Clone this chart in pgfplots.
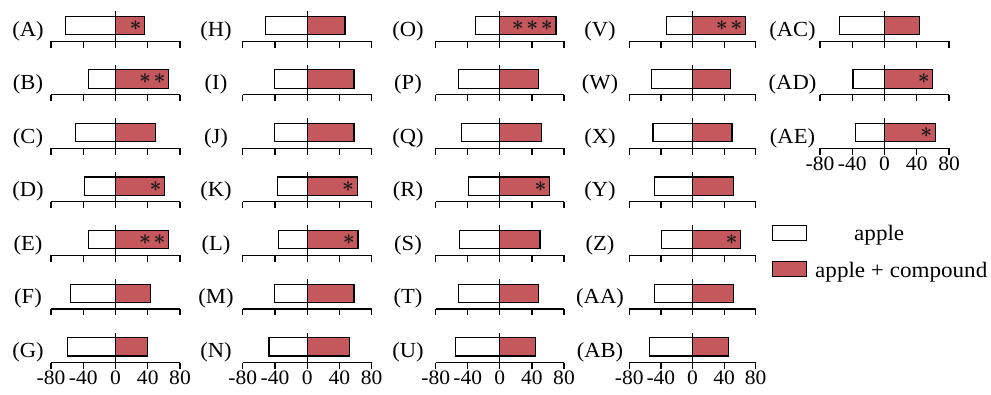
\documentclass[border=0pt]{standalone}
\usepackage{pgfplots}
\pgfplotsset{compat=1.18}
\usepackage{fontspec}
\setmainfont{Liberation Serif}[FakeStretch=1.05]
\definecolor{barred}{RGB}{197,88,92}
\newcommand\labfont{\fontsize{21.5}{21.5}\selectfont}
\pgfplotsset{
  panel/.style={
    scale only axis, height=30pt, anchor=south west,
    xmin=-80, xmax=80, ymin=-1.05, ymax=0.95,
    axis x line=bottom, axis y line=center,
    axis line style={-, line width=1.2pt, black},
    xtick={-80,-40,0,40,80}, ytick=\empty,
    tick align=outside, major tick length=6.5pt,
    every tick/.style={black, line width=1.2pt},
    xticklabels={},
    axis on top, clip=false,
  },
  c1/.style={panel, width=129pt},
  c2/.style={panel, width=129pt},
  c3/.style={panel, width=128.3pt},
  c4/.style={panel, width=126.4pt},
  c5/.style={panel, width=129pt},
  bottomrow/.style={xticklabels={-80,-40,0,40,80},
    xticklabel style={font=\fontsize{20.5}{20.5}\selectfont, inner sep=1.5pt}},
  wbar/.style={xbar, bar shift=0pt, bar width=18.3pt, fill=white, draw=black, line width=1.2pt},
  rbar/.style={xbar, bar shift=0pt, bar width=18.3pt, fill=barred, draw=black, line width=1.2pt},
  stars/.style={nodes near coords={#1},
    every node near coord/.append style={anchor=east, inner sep=0pt, xshift=-2.5pt, font=\fontsize{22}{22}\selectfont\boldmath, text=black!90}},
}
\newcommand\starone{${\ast}$}
\newcommand\startwo{${\ast}\mkern2mu{\ast}$}
\newcommand\starthree{${\ast}\mkern2mu{\ast}\mkern2mu{\ast}$}
\begin{document}
\begin{tikzpicture}
\useasboundingbox (0,0) rectangle (991pt,394pt);
% ---------------- column 1
\begin{axis}[c1, at={(51pt,352.7pt)}]
\addplot[wbar] coordinates {(-62,0)};
\addplot[rbar, stars=\starone] coordinates {(36,0)};
\node[font=\labfont, xshift=-23pt] at (axis description cs:0,0.343) {(A)};
\end{axis}
\begin{axis}[c1, at={(51pt,299.2pt)}]
\addplot[wbar] coordinates {(-33.5,0)};
\addplot[rbar, stars=\startwo] coordinates {(66,0)};
\node[font=\labfont, xshift=-23pt] at (axis description cs:0,0.343) {(B)};
\end{axis}
\begin{axis}[c1, at={(51pt,245.6pt)}]
\addplot[wbar] coordinates {(-49.6,0)};
\addplot[rbar] coordinates {(49.6,0)};
\node[font=\labfont, xshift=-23pt] at (axis description cs:0,0.343) {(C)};
\end{axis}
\begin{axis}[c1, at={(51pt,192.1pt)}]
\addplot[wbar] coordinates {(-38.5,0)};
\addplot[rbar, stars=\starone] coordinates {(61,0)};
\node[font=\labfont, xshift=-23pt] at (axis description cs:0,0.343) {(D)};
\end{axis}
\begin{axis}[c1, at={(51pt,138.6pt)}]
\addplot[wbar] coordinates {(-33,0)};
\addplot[rbar, stars=\startwo] coordinates {(66,0)};
\node[font=\labfont, xshift=-23pt] at (axis description cs:0,0.343) {(E)};
\end{axis}
\begin{axis}[c1, at={(51pt,85.0pt)}]
\addplot[wbar] coordinates {(-56,0)};
\addplot[rbar] coordinates {(43.4,0)};
\node[font=\labfont, xshift=-23pt] at (axis description cs:0,0.343) {(F)};
\end{axis}
\begin{axis}[c1, bottomrow, at={(51pt,31.5pt)}]
\addplot[wbar] coordinates {(-60,0)};
\addplot[rbar] coordinates {(39.3,0)};
\node[font=\labfont, xshift=-23pt] at (axis description cs:0,0.343) {(G)};
\end{axis}
% ---------------- column 2
\begin{axis}[c2, at={(242.7pt,352.7pt)}]
\addplot[wbar] coordinates {(-52,0)};
\addplot[rbar] coordinates {(47,0)};
\node[font=\labfont, xshift=-26.7pt] at (axis description cs:0,0.343) {(H)};
\end{axis}
\begin{axis}[c2, at={(242.7pt,299.2pt)}]
\addplot[wbar] coordinates {(-41,0)};
\addplot[rbar] coordinates {(58,0)};
\node[font=\labfont, xshift=-26.7pt] at (axis description cs:0,0.343) {(I)};
\end{axis}
\begin{axis}[c2, at={(242.7pt,245.6pt)}]
\addplot[wbar] coordinates {(-41,0)};
\addplot[rbar] coordinates {(58,0)};
\node[font=\labfont, xshift=-26.7pt] at (axis description cs:0,0.343) {(J)};
\end{axis}
\begin{axis}[c2, at={(242.7pt,192.1pt)}]
\addplot[wbar] coordinates {(-37,0)};
\addplot[rbar, stars=\starone] coordinates {(62,0)};
\node[font=\labfont, xshift=-26.7pt] at (axis description cs:0,0.343) {(K)};
\end{axis}
\begin{axis}[c2, at={(242.7pt,138.6pt)}]
\addplot[wbar] coordinates {(-36,0)};
\addplot[rbar, stars=\starone] coordinates {(63,0)};
\node[font=\labfont, xshift=-26.7pt] at (axis description cs:0,0.343) {(L)};
\end{axis}
\begin{axis}[c2, at={(242.7pt,85.0pt)}]
\addplot[wbar] coordinates {(-41,0)};
\addplot[rbar] coordinates {(58,0)};
\node[font=\labfont, xshift=-26.7pt] at (axis description cs:0,0.343) {(M)};
\end{axis}
\begin{axis}[c2, bottomrow, at={(242.7pt,31.5pt)}]
\addplot[wbar] coordinates {(-47.5,0)};
\addplot[rbar] coordinates {(52,0)};
\node[font=\labfont, xshift=-26.7pt] at (axis description cs:0,0.343) {(N)};
\end{axis}
% ---------------- column 3
\begin{axis}[c3, at={(435.7pt,352.7pt)}]
\addplot[wbar] coordinates {(-30,0)};
\addplot[rbar, stars=\starthree] coordinates {(70,0)};
\node[font=\labfont, xshift=-27.7pt] at (axis description cs:0,0.343) {(O)};
\end{axis}
\begin{axis}[c3, at={(435.7pt,299.2pt)}]
\addplot[wbar] coordinates {(-51.5,0)};
\addplot[rbar] coordinates {(48.6,0)};
\node[font=\labfont, xshift=-27.7pt] at (axis description cs:0,0.343) {(P)};
\end{axis}
\begin{axis}[c3, at={(435.7pt,245.6pt)}]
\addplot[wbar] coordinates {(-48,0)};
\addplot[rbar] coordinates {(52,0)};
\node[font=\labfont, xshift=-27.7pt] at (axis description cs:0,0.343) {(Q)};
\end{axis}
\begin{axis}[c3, at={(435.7pt,192.1pt)}]
\addplot[wbar] coordinates {(-38.7,0)};
\addplot[rbar, stars=\starone] coordinates {(62,0)};
\node[font=\labfont, xshift=-27.7pt] at (axis description cs:0,0.343) {(R)};
\end{axis}
\begin{axis}[c3, at={(435.7pt,138.6pt)}]
\addplot[wbar] coordinates {(-50.7,0)};
\addplot[rbar] coordinates {(50,0)};
\node[font=\labfont, xshift=-27.7pt] at (axis description cs:0,0.343) {(S)};
\end{axis}
\begin{axis}[c3, at={(435.7pt,85.0pt)}]
\addplot[wbar] coordinates {(-52,0)};
\addplot[rbar] coordinates {(48.6,0)};
\node[font=\labfont, xshift=-27.7pt] at (axis description cs:0,0.343) {(T)};
\end{axis}
\begin{axis}[c3, bottomrow, at={(435.7pt,31.5pt)}]
\addplot[wbar] coordinates {(-55,0)};
\addplot[rbar] coordinates {(44.5,0)};
\node[font=\labfont, xshift=-27.7pt] at (axis description cs:0,0.343) {(U)};
\end{axis}
% ---------------- column 4
\begin{axis}[c4, at={(629.3pt,352.7pt)}]
\addplot[wbar] coordinates {(-33,0)};
\addplot[rbar, stars=\startwo] coordinates {(67,0)};
\node[font=\labfont, xshift=-29.3pt] at (axis description cs:0,0.343) {(V)};
\end{axis}
\begin{axis}[c4, at={(629.3pt,299.2pt)}]
\addplot[wbar] coordinates {(-52,0)};
\addplot[rbar] coordinates {(48.5,0)};
\node[font=\labfont, xshift=-29.3pt] at (axis description cs:0,0.343) {(W)};
\end{axis}
\begin{axis}[c4, at={(629.3pt,245.6pt)}]
\addplot[wbar] coordinates {(-50,0)};
\addplot[rbar] coordinates {(50,0)};
\node[font=\labfont, xshift=-29.3pt] at (axis description cs:0,0.343) {(X)};
\end{axis}
\begin{axis}[c4, at={(629.3pt,192.1pt)}]
\addplot[wbar] coordinates {(-48,0)};
\addplot[rbar] coordinates {(52,0)};
\node[font=\labfont, xshift=-29.3pt] at (axis description cs:0,0.343) {(Y)};
\end{axis}
\begin{axis}[c4, at={(629.3pt,138.6pt)}]
\addplot[wbar] coordinates {(-39.7,0)};
\addplot[rbar, stars=\starone] coordinates {(61,0)};
\node[font=\labfont, xshift=-29.3pt] at (axis description cs:0,0.343) {(Z)};
\end{axis}
\begin{axis}[c4, at={(629.3pt,85.0pt)}]
\addplot[wbar] coordinates {(-47.7,0)};
\addplot[rbar] coordinates {(52,0)};
\node[font=\labfont, xshift=-29.3pt] at (axis description cs:0,0.343) {(AA)};
\end{axis}
\begin{axis}[c4, bottomrow, at={(629.3pt,31.5pt)}]
\addplot[wbar] coordinates {(-54.4,0)};
\addplot[rbar] coordinates {(45.6,0)};
\node[font=\labfont, xshift=-29.3pt] at (axis description cs:0,0.343) {(AB)};
\end{axis}
% ---------------- column 5
\begin{axis}[c5, at={(820pt,352.7pt)}]
\addplot[wbar] coordinates {(-56,0)};
\addplot[rbar] coordinates {(43,0)};
\node[font=\labfont, xshift=-27.5pt] at (axis description cs:0,0.343) {(AC)};
\end{axis}
\begin{axis}[c5, at={(820pt,299.2pt)}]
\addplot[wbar] coordinates {(-39,0)};
\addplot[rbar, stars=\starone] coordinates {(60,0)};
\node[font=\labfont, xshift=-27.5pt] at (axis description cs:0,0.343) {(AD)};
\end{axis}
\begin{axis}[c5, bottomrow, at={(820pt,245.6pt)},
  legend cell align=left,
  legend style={at={(axis description cs:-0.3744,-2.543)}, anchor=north west,
    draw=none, fill=none, inner sep=0pt, outer sep=0pt, row sep=15.5pt,
    font=\fontsize{22}{22}\selectfont,
    nodes={inner sep=0pt, text height=16pt, text depth=5pt},
    /tikz/every odd column/.append style={column sep=8.3pt}}]
\addplot[wbar, forget plot] coordinates {(-36,0)};
\addplot[rbar, stars=\starone, forget plot] coordinates {(63,0)};
\node[font=\labfont, xshift=-27.5pt] at (axis description cs:0,0.343) {(AE)};
\addlegendimage{legend image code/.code={\draw[fill=white,draw=black,line width=1.2pt] (0pt,-5pt) rectangle (34pt,10pt);}}
\addlegendimage{legend image code/.code={\draw[fill=barred,draw=black,line width=1.2pt] (0pt,-5pt) rectangle (34pt,10pt);}}
\legend{\hspace*{39pt}apple, apple + compound}
\end{axis}
\end{tikzpicture}
\end{document}
